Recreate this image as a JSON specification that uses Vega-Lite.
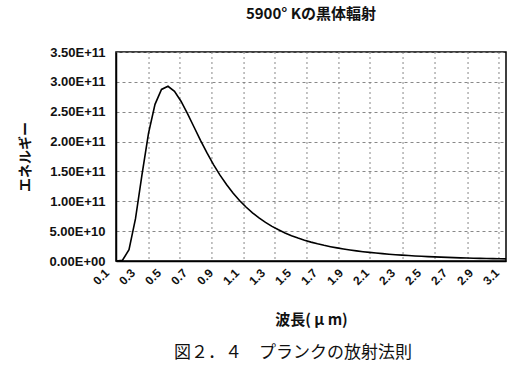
{
  "$schema": "https://vega.github.io/schema/vega-lite/v6.json",
  "padding": {"left": 18, "top": 6, "right": 10, "bottom": 5},
  "background": "white",
  "title": {"text": "図２．４　プランクの放射法則", "orient": "bottom", "font": "Noto Sans CJK JP", "fontSize": 17, "fontWeight": "normal", "color": "#111", "anchor": "middle", "offset": 17, "dx": 29},
  "config": {
    "font": "Liberation Sans",
    "view": {"stroke": "#000", "strokeWidth": 1.5},
    "axis": {"domainColor": "#000", "domainWidth": 1.5, "labelColor": "#111", "titleColor": "#111"}
  },
  "datasets": {
    "curve": [
      {"lam": 0.1, "E": 3060000}, {"lam": 0.15, "E": 1364000000}, {"lam": 0.2, "E": 18860000000},
      {"lam": 0.25, "E": 70780000000}, {"lam": 0.3, "E": 144600000000}, {"lam": 0.35, "E": 213800000000},
      {"lam": 0.4, "E": 262300000000}, {"lam": 0.45, "E": 287300000000}, {"lam": 0.5, "E": 292600000000},
      {"lam": 0.55, "E": 284200000000}, {"lam": 0.6, "E": 267600000000}, {"lam": 0.65, "E": 246800000000},
      {"lam": 0.7, "E": 224400000000}, {"lam": 0.75, "E": 202100000000}, {"lam": 0.8, "E": 181000000000},
      {"lam": 0.85, "E": 161500000000}, {"lam": 0.9, "E": 143800000000}, {"lam": 0.95, "E": 128000000000},
      {"lam": 1.0, "E": 113900000000}, {"lam": 1.05, "E": 101400000000}, {"lam": 1.1, "E": 90410000000},
      {"lam": 1.15, "E": 80720000000}, {"lam": 1.2, "E": 72180000000}, {"lam": 1.25, "E": 64660000000},
      {"lam": 1.3, "E": 58040000000}, {"lam": 1.35, "E": 52200000000}, {"lam": 1.4, "E": 47040000000},
      {"lam": 1.45, "E": 42470000000}, {"lam": 1.5, "E": 38420000000}, {"lam": 1.55, "E": 34820000000},
      {"lam": 1.6, "E": 31630000000}, {"lam": 1.65, "E": 28780000000}, {"lam": 1.7, "E": 26230000000},
      {"lam": 1.75, "E": 23960000000}, {"lam": 1.8, "E": 21920000000}, {"lam": 1.85, "E": 20080000000},
      {"lam": 1.9, "E": 18430000000}, {"lam": 1.95, "E": 16950000000}, {"lam": 2.0, "E": 15610000000},
      {"lam": 2.05, "E": 14390000000}, {"lam": 2.1, "E": 13290000000}, {"lam": 2.15, "E": 12290000000},
      {"lam": 2.2, "E": 11390000000}, {"lam": 2.25, "E": 10560000000}, {"lam": 2.3, "E": 9805000000},
      {"lam": 2.35, "E": 9117000000}, {"lam": 2.4, "E": 8487000000}, {"lam": 2.45, "E": 7910000000},
      {"lam": 2.5, "E": 7381000000}, {"lam": 2.55, "E": 6895000000}, {"lam": 2.6, "E": 6447000000},
      {"lam": 2.65, "E": 6036000000}, {"lam": 2.7, "E": 5656000000}, {"lam": 2.75, "E": 5305000000},
      {"lam": 2.8, "E": 4981000000}, {"lam": 2.85, "E": 4682000000}, {"lam": 2.9, "E": 4404000000},
      {"lam": 2.95, "E": 4146000000}, {"lam": 3.0, "E": 3907000000}, {"lam": 3.05, "E": 3684000000},
      {"lam": 3.1, "E": 3478000000}
    ],
    "vgrid": [
      {"g": 0.354}, {"g": 0.592}, {"g": 0.838}, {"g": 1.085}, {"g": 1.323}, {"g": 1.569},
      {"g": 1.815}, {"g": 2.054}, {"g": 2.308}, {"g": 2.554}, {"g": 2.808}, {"g": 3.046}
    ]
  },
  "vconcat": [
    {
      "title": {"text": "5900° Kの黒体輻射", "font": "Noto Sans CJK JP", "fontSize": 15, "fontWeight": "bold", "color": "#111", "anchor": "middle", "offset": 24, "dx": 0},
      "width": 390,
      "height": 209,
      "resolve": {"axis": {"x": "independent"}},
      "layer": [
        {
          "data": {"name": "vgrid"},
          "mark": {"type": "rule", "color": "#888", "strokeDash": [2, 3], "strokeWidth": 1},
          "encoding": {
            "x": {"field": "g", "type": "quantitative", "scale": {"domain": [0.1, 3.1], "nice": false, "zero": false}, "axis": null}
          }
        },
        {
          "data": {"name": "curve"},
          "mark": {"type": "line", "color": "#000", "strokeWidth": 1.6},
          "encoding": {
            "x": {
              "field": "lam", "type": "quantitative",
              "scale": {"domain": [0.1, 3.1], "nice": false, "zero": false},
              "axis": {
                "title": "波長( μ m)", "titleFont": "Noto Sans CJK JP", "titleFontSize": 15, "titleFontWeight": "bold", "titlePadding": 26,
                "values": [0.1, 0.3, 0.5, 0.7, 0.9, 1.1, 1.3, 1.5, 1.7, 1.9, 2.1, 2.3, 2.5, 2.7, 2.9, 3.1],
                "format": ".1f", "labelAngle": -45, "labelFontSize": 12, "labelFontWeight": "bold", "labelOverlap": false,
                "ticks": false, "grid": false, "labelPadding": 6, "labelOffset": -13
              }
            },
            "y": {
              "field": "E", "type": "quantitative",
              "scale": {"domain": [0, 350000000000], "nice": false},
              "axis": {
                "title": "エネルギー", "titleFont": "Noto Sans CJK JP", "titleFontSize": 14, "titleFontWeight": "bold", "titlePadding": 16,
                "values": [0, 50000000000, 100000000000, 150000000000, 200000000000, 250000000000, 300000000000, 350000000000],
                "labelExpr": "datum.value == 0 ? '0.00E+00' : upper(format(datum.value, '.2e'))",
                "labelFontSize": 13, "labelFontWeight": "bold", "labelPadding": 11,
                "ticks": false, "grid": true, "gridColor": "#888", "gridDash": [3, 3], "gridWidth": 1
              }
            }
          }
        }
      ]
    }
  ]
}
